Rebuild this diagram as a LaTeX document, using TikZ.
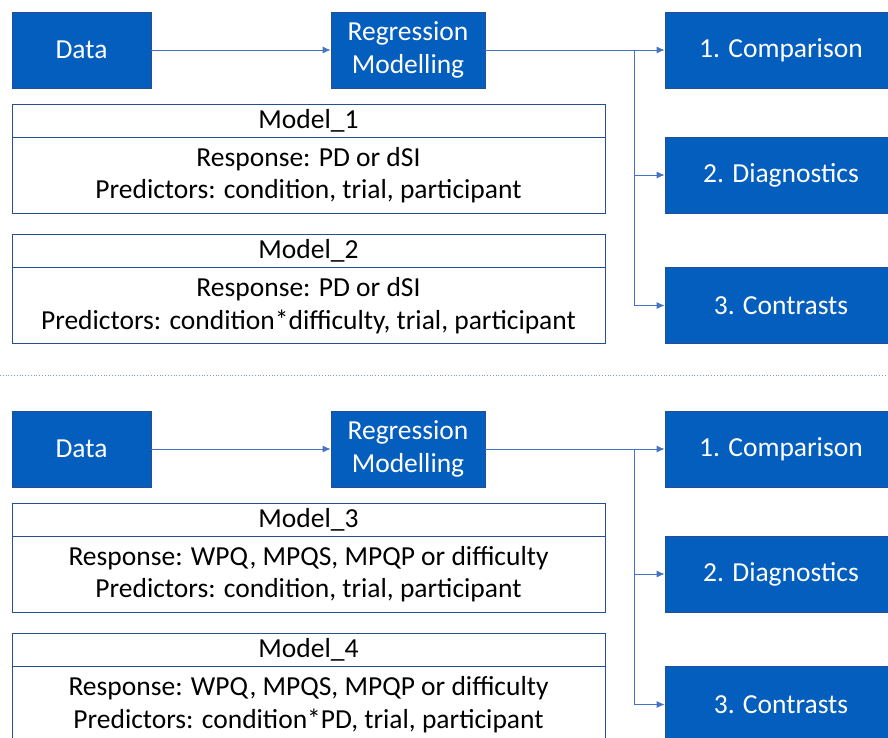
\documentclass[tikz,border=0pt]{standalone}
\usepackage{fontspec}
\setmainfont{Carlito}
\usetikzlibrary{arrows.meta}

\definecolor{boxblue}{RGB}{4,94,190}
\definecolor{edgeblue}{RGB}{38,78,150}
\definecolor{lineblue}{RGB}{68,114,196}

\tikzset{
  txt/.style={font=\fontsize{27.5}{32.5}\selectfont},
  bluebox/.style={txt, draw=edgeblue, fill=boxblue, text=white, align=center,
    minimum height=76pt, inner sep=0pt, line width=0.8pt},
  headbox/.style={txt, draw=edgeblue, minimum width=593pt, minimum height=33pt,
    inner sep=0pt, line width=0.8pt},
  bodybox/.style={txt, draw=edgeblue, minimum width=593pt, minimum height=76pt,
    align=center, inner sep=0pt, line width=0.8pt},
  flow/.style={draw=lineblue, line width=0.8pt, -{Latex[length=8pt,width=7pt]}}
}

\begin{document}
\begin{tikzpicture}[x=1pt, y=-1pt]
\useasboundingbox (0,0) rectangle (888,738);
\clip (0,0) rectangle (888,738);

% upper panel
\node[bluebox, minimum width=139pt] (data1) at (81.5,50) {Data};
\node[bluebox, minimum width=154pt] (reg1) at (408,50) {Regression\\Modelling};
\node[bluebox, minimum width=232pt] (comp1) at (781,50) {1. Comparison};
\node[bluebox, minimum width=232pt] (diag1) at (781,175) {2. Diagnostics};
\node[bluebox, minimum width=232pt] (cont1) at (781,305.5) {3. Contrasts};
\node[headbox] (head1) at (308.5,120.5) {Model\_1};
\node[bodybox] (body1) at (308.5,175) {Response: PD or dSI\\Predictors: condition, trial, participant};
\node[headbox] (head2) at (308.5,250.5) {Model\_2};
\node[bodybox] (body2) at (308.5,305.5) {Response: PD or dSI\\Predictors: condition*difficulty, trial, participant};
\coordinate (fork1) at (634,50);
\draw[flow] (data1) -- (reg1);
\draw[flow] (reg1) -- (comp1);
\draw[flow] (fork1) |- (diag1);
\draw[flow] (fork1) |- (cont1);

% separator
\draw[lineblue!70, dotted, line width=0.8pt] (0,375) -- (888,375);

% lower panel
\node[bluebox, minimum width=139pt] (data2) at (81.5,449) {Data};
\node[bluebox, minimum width=154pt] (reg2) at (408,449) {Regression\\Modelling};
\node[bluebox, minimum width=232pt] (comp2) at (781,449) {1. Comparison};
\node[bluebox, minimum width=232pt] (diag2) at (781,574) {2. Diagnostics};
\node[bluebox, minimum width=232pt] (cont2) at (781,704.5) {3. Contrasts};
\node[headbox] (head3) at (308.5,519.5) {Model\_3};
\node[bodybox] (body3) at (308.5,574) {Response: WPQ, MPQS, MPQP or difficulty\\Predictors: condition, trial, participant};
\node[headbox] (head4) at (308.5,649.5) {Model\_4};
\node[bodybox] (body4) at (308.5,704.5) {Response: WPQ, MPQS, MPQP or difficulty\\Predictors: condition*PD, trial, participant};
\coordinate (fork2) at (634,449);
\draw[flow] (data2) -- (reg2);
\draw[flow] (reg2) -- (comp2);
\draw[flow] (fork2) |- (diag2);
\draw[flow] (fork2) |- (cont2);
\end{tikzpicture}
\end{document}
